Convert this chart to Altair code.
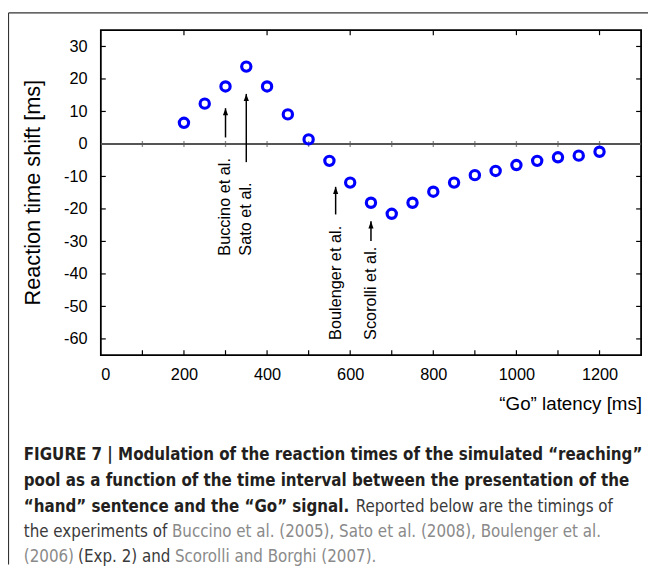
import altair as alt
import pandas as pd

# ---- data ----
latency = [200, 250, 300, 350, 400, 450, 500, 550, 600, 650, 700,
           750, 800, 850, 900, 950, 1000, 1050, 1100, 1150, 1200]
shift = [6.5, 12.4, 17.7, 23.8, 17.7, 9.1, 1.4, -5.2, -11.9, -18.1, -21.5,
         -18.1, -14.7, -11.9, -9.6, -8.3, -6.5, -5.2, -4.1, -3.6, -2.4]

studies = ["Buccino et al.", "Sato et al.", "Boulenger et al.", "Scorolli et al."]
study_x = [300, 350, 565, 650]
arrow_tip = [11.0, 15.4, -13.2, -23.8]
arrow_base = [2.0, -5.6, -21.7, -29.9]
label_start = [-34.4, -34.4, -60.3, -60.3]

x_label_values = [0, 200, 400, 600, 800, 1000, 1200]
x_minor_ticks = [100, 200, 300, 400, 500, 600, 700, 800, 900, 1000, 1100, 1200]
x_top_ticks = [200, 400, 600, 800, 1000, 1200]
y_label_values = [-60, -50, -40, -30, -20, -10, 0, 10, 20, 30]
y_side_ticks = [-60, -50, -40, -30, -20, -10, 10, 20, 30]

W, H = 547, 329
FONT = "Liberation Sans"
CAP_FONT = "DejaVu Sans Condensed"

xscale = alt.Scale(domain=[0, 1300], nice=False, zero=False)
yscale = alt.Scale(domain=[-65, 35], nice=False, zero=False)
xaxis = alt.Axis(values=x_label_values, ticks=False, domain=False, grid=False,
                 labelFontSize=16.5, labelFont=FONT, labelColor="black",
                 labelPadding=12, title=None, labelExpr="'' + datum.value")
yaxis = alt.Axis(values=y_label_values, ticks=False, domain=False, grid=False,
                 labelFontSize=16.5, labelFont=FONT, labelColor="black",
                 labelPadding=14, title=None, labelExpr="'' + datum.value")


def X(f="x"):
    return alt.X(f"{f}:Q", scale=xscale, axis=xaxis)


def Y(f="y"):
    return alt.Y(f"{f}:Q", scale=yscale, axis=yaxis)


pts_df = pd.DataFrame({"x": latency, "y": shift})
ann_df = pd.DataFrame({"x": study_x, "y": arrow_tip, "y2": arrow_base,
                       "ys": label_start, "t": studies})
dummy = pd.DataFrame({"a": [0]})

layers = []

# zero line
layers.append(alt.Chart(pd.DataFrame({"y": [0]})).mark_rule(color="#555", strokeWidth=2)
              .encode(y=Y(), x=alt.value(0), x2=alt.value(W)))
# ticks on zero line
layers.append(alt.Chart(pd.DataFrame({"x": x_minor_ticks, "y": [0] * len(x_minor_ticks)}))
              .mark_tick(orient="vertical", size=6, thickness=1.3, color="#555")
              .encode(x=X(), y=Y()))
# bottom ticks
layers.append(alt.Chart(pd.DataFrame({"x": x_minor_ticks})).mark_rule(color="black", strokeWidth=1.2)
              .encode(x=X(), y=alt.value(H), y2=alt.value(H - 5)))
# top ticks
layers.append(alt.Chart(pd.DataFrame({"x": x_top_ticks})).mark_rule(color="black", strokeWidth=1.2)
              .encode(x=X(), y=alt.value(0), y2=alt.value(5)))
# left / right ticks
layers.append(alt.Chart(pd.DataFrame({"y": y_side_ticks})).mark_rule(color="black", strokeWidth=1.2)
              .encode(y=Y(), x=alt.value(0), x2=alt.value(5)))
layers.append(alt.Chart(pd.DataFrame({"y": y_side_ticks})).mark_rule(color="black", strokeWidth=1.2)
              .encode(y=Y(), x=alt.value(W), x2=alt.value(W - 5)))

# data points
layers.append(alt.Chart(pts_df).mark_point(shape="circle", filled=False, color="#0000ff",
                                           strokeWidth=3.2, size=88, opacity=1)
              .encode(x=X(), y=Y()))

# arrows
layers.append(alt.Chart(ann_df).mark_rule(color="black", strokeWidth=1.5)
              .encode(x=X(), y=Y(), y2="y2:Q"))
layers.append(alt.Chart(ann_df).mark_point(shape="M0,0L-0.36,1L0.36,1Z", filled=True,
                                           color="black", size=210, opacity=1)
              .encode(x=X(), y=Y()))
# study labels
layers.append(alt.Chart(ann_df).mark_text(angle=270, align="left", baseline="middle",
                                          font=FONT, fontSize=16.5, color="black")
              .encode(x=X(), y=Y("ys"), text="t:N"))

# axis titles
layers.append(alt.Chart(dummy).mark_text(text="Reaction time shift  [ms]", angle=270,
                                         align="center", baseline="middle",
                                         font=FONT, fontSize=22, color="black")
              .encode(x=alt.value(-69), y=alt.value(H / 2)))
layers.append(alt.Chart(dummy).mark_text(text="\u201cGo\u201d latency  [ms]",
                                         align="right", baseline="middle",
                                         font=FONT, fontSize=19, color="black")
              .encode(x=alt.value(W + 1), y=alt.value(379)))

# outer figure frame
layers.append(alt.Chart(dummy).mark_rule(color="#333", strokeWidth=1.2)
              .encode(x=alt.value(-93.5), x2=alt.value(W + 7), y=alt.value(-17.5)))
layers.append(alt.Chart(dummy).mark_rule(color="#333", strokeWidth=1.2)
              .encode(x=alt.value(-93.5), y=alt.value(-17.5), y2=alt.value(H + 212)))

# caption
BOLD_C = "#231f20"
REG_C = "#3a3a3a"
REF_C = "#8a8a8a"
CAP_SIZE = 17


def cap(text, x, y, weight="normal", color=REG_C, align="left"):
    return (alt.Chart(dummy).mark_text(text=text, align=align, baseline="alphabetic",
                                       font=CAP_FONT, fontSize=CAP_SIZE,
                                       fontWeight=weight, color=color)
            .encode(x=alt.value(x), y=alt.value(y)))


L0 = -78
lines_y = [435.5, 461.5, 487.5, 513.5, 538.5]
layers += [
    cap("FIGURE 7 | Modulation of the reaction times of the simulated \u201creaching\u201d",
        L0, lines_y[0], "bold", BOLD_C),
    cap("pool as a function of the time interval between the presentation of the",
        L0, lines_y[1], "bold", BOLD_C),
    cap("\u201chand\u201d sentence and the \u201cGo\u201d signal.", L0, lines_y[2], "bold", BOLD_C),
    cap("Reported below are the timings of", 258, lines_y[2]),
    cap("the experiments of", L0, lines_y[3]),
    cap("Buccino et al. (2005), Sato et al. (2008), Boulenger et al.", 72, lines_y[3],
        color=REF_C),
    cap("(2006)", L0, lines_y[4], color=REF_C),
    cap("(Exp. 2) and", -23, lines_y[4]),
    cap("Scorolli and Borghi (2007).", 75, lines_y[4], color=REF_C),
]

chart = (alt.layer(*layers)
         .properties(width=W, height=H,
                     autosize=alt.AutoSizeParams(type="none"),
                     padding={"left": 94, "top": 19, "right": 7, "bottom": 212})
         .configure_view(stroke="black", strokeWidth=1.8))

chart.save("out.html", embed_options={"renderer": "svg", "actions": False})
